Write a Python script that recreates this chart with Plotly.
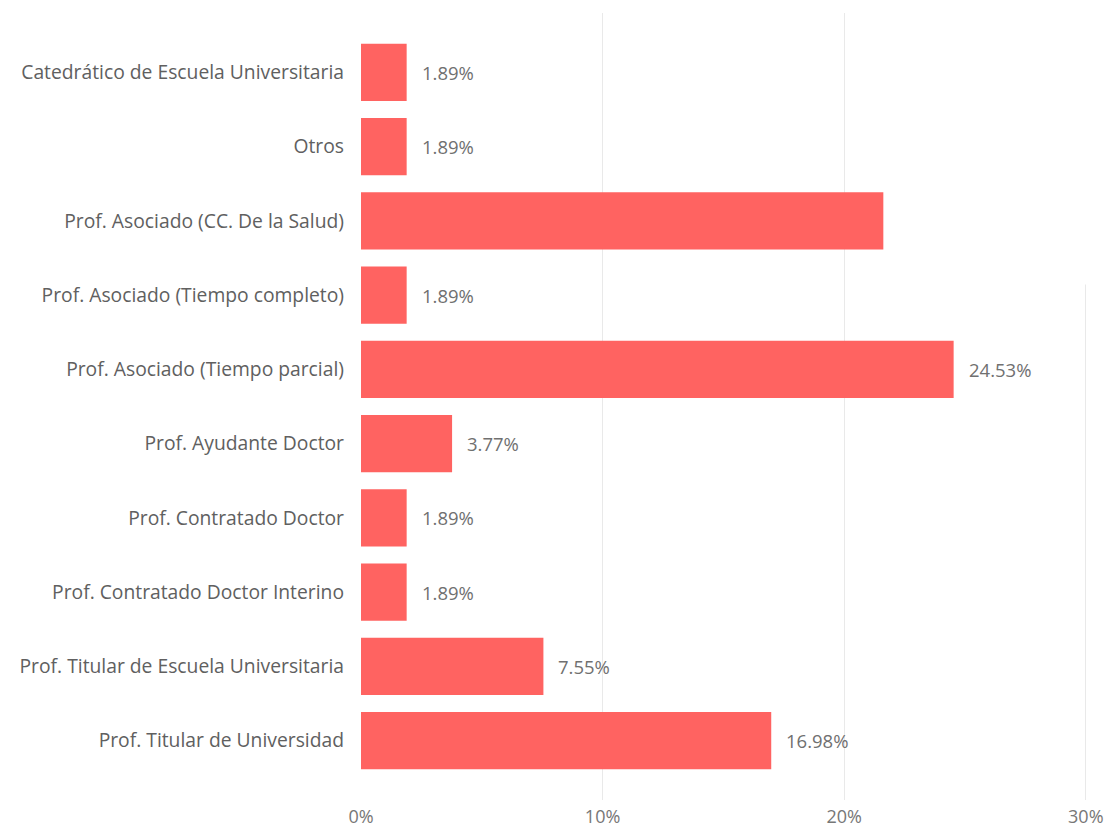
import plotly.graph_objects as go

categories = [
    "Catedrático de Escuela Universitaria",
    "Otros",
    "Prof. Asociado (CC. De la Salud)",
    "Prof. Asociado (Tiempo completo)",
    "Prof. Asociado (Tiempo parcial)",
    "Prof. Ayudante Doctor",
    "Prof. Contratado Doctor",
    "Prof. Contratado Doctor Interino",
    "Prof. Titular de Escuela Universitaria",
    "Prof. Titular de Universidad",
]
values = [1.89, 1.89, 21.62, 1.89, 24.53, 3.77, 1.89, 1.89, 7.55, 16.98]
labels = ["1.89%", "1.89%", "", "1.89%", "24.53%", "3.77%", "1.89%", "1.89%", "7.55%", "16.98%"]
x_ticks = [0, 10, 20, 30]
x_tick_labels = ["0%", "10%", "20%", "30%"]

FONT = "Open Sans"
fig = go.Figure()
fig.add_trace(go.Bar(
    y=categories, x=values, orientation="h",
    marker=dict(color="#FF6361", line=dict(width=0)),
    width=0.77, hoverinfo="skip",
))
for c, v, t in zip(categories, values, labels):
    if t:
        fig.add_annotation(x=v, y=c, text=t, showarrow=False, xanchor="left",
                           xshift=13, font=dict(family=FONT, size=18.5, color="#707070"))

# white mask hiding the top of the 30% gridline as in the reference
fig.add_shape(type="rect", xref="paper", yref="paper", x0=0.985, x1=1.02, y0=0.655, y1=1.01,
              fillcolor="white", line=dict(width=0), layer="above")

fig.update_layout(
    width=1104, height=822,
    margin=dict(l=353, r=25, t=5, b=30),
    paper_bgcolor="white", plot_bgcolor="white",
    showlegend=False,
    font=dict(family=FONT, color="#666666", size=18),
    xaxis=dict(range=[0, 30.05], tickvals=x_ticks, ticktext=x_tick_labels,
               showgrid=True, gridcolor="#e9e9e9", gridwidth=1, zeroline=False,
               showline=False, ticks="", ticklabelstandoff=4, automargin=False,
               tickfont=dict(size=18, color="#777777")),
    yaxis=dict(range=[9.8, -0.8], autorange=False, showgrid=False, zeroline=False,
               showline=False, ticks="", ticklabelstandoff=16, automargin=False,
               tickfont=dict(size=19.3, color="#606060")),
)
fig.write_html("out.html")
